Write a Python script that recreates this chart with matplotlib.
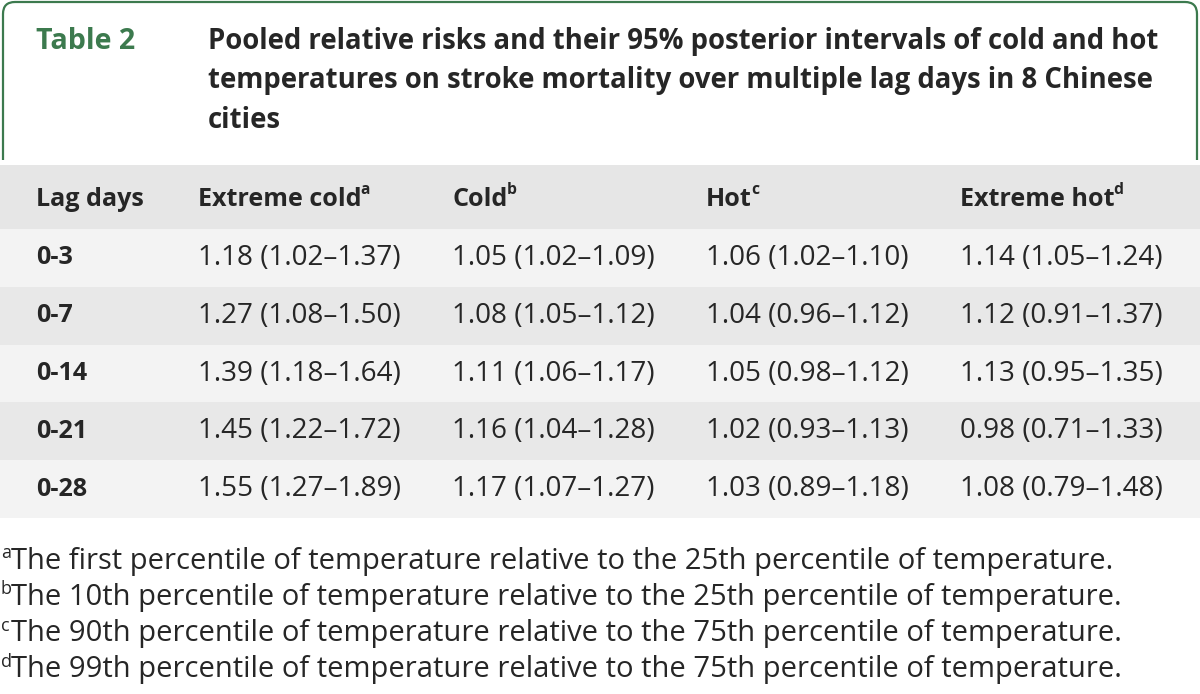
import matplotlib
matplotlib.use("Agg")
import matplotlib.pyplot as plt
from matplotlib.patches import FancyBboxPatch, Rectangle

plt.rcParams['font.family'] = ['Open Sans', 'DejaVu Sans']

table_label = "Table 2"
title_lines = [
    "Pooled relative risks and their 95% posterior intervals of cold and hot",
    "temperatures on stroke mortality over multiple lag days in 8 Chinese",
    "cities",
]
columns = ["Lag days", "Extreme cold", "Cold", "Hot", "Extreme hot"]
column_marks = ["", "a", "b", "c", "d"]
lag_days = ["0-3", "0-7", "0-14", "0-21", "0-28"]
extreme_cold = ["1.18 (1.02–1.37)", "1.27 (1.08–1.50)", "1.39 (1.18–1.64)",
                "1.45 (1.22–1.72)", "1.55 (1.27–1.89)"]
cold = ["1.05 (1.02–1.09)", "1.08 (1.05–1.12)", "1.11 (1.06–1.17)",
        "1.16 (1.04–1.28)", "1.17 (1.07–1.27)"]
hot = ["1.06 (1.02–1.10)", "1.04 (0.96–1.12)", "1.05 (0.98–1.12)",
       "1.02 (0.93–1.13)", "1.03 (0.89–1.18)"]
extreme_hot = ["1.14 (1.05–1.24)", "1.12 (0.91–1.37)", "1.13 (0.95–1.35)",
               "0.98 (0.71–1.33)", "1.08 (0.79–1.48)"]
footnotes = [
    ("a", "The first percentile of temperature relative to the 25th percentile of temperature."),
    ("b", "The 10th percentile of temperature relative to the 25th percentile of temperature."),
    ("c", "The 90th percentile of temperature relative to the 75th percentile of temperature."),
    ("d", "The 99th percentile of temperature relative to the 75th percentile of temperature."),
]

GREEN = "#3c7a4e"
TEXT = "#262626"

fig = plt.figure(figsize=(12, 6.94), dpi=100)
ax = fig.add_axes([0, 0, 1, 1])
ax.set_xlim(0, 1200)
ax.set_ylim(694, 0)
ax.axis("off")
fig.canvas.draw()
renderer = fig.canvas.get_renderer()


def fit_size(s, width_px, weight):
    # font size (pt) that makes s about width_px wide
    t = ax.text(0, 0, s, fontsize=10, fontweight=weight)
    w = t.get_window_extent(renderer).width
    t.remove()
    return 10 * width_px / w


title_fs = fit_size(title_lines[0], 955, "bold")
head_fs = fit_size("Extreme cold", 164, "bold")
body_fs = fit_size(extreme_cold[0], 203, "normal")
note_fs = fit_size(footnotes[1][1], 1108, "normal")

# green frame round the title, open at the bottom
frame = FancyBboxPatch((3, 2), 1194, 300, boxstyle="round,pad=0,rounding_size=12",
                       fill=False, ec=GREEN, lw=1.6)
ax.add_patch(frame)
frame.set_clip_path(Rectangle((0, 0), 1200, 160, transform=ax.transData))

ax.text(36, 41, table_label, color=GREEN, fontsize=title_fs * 1.04, fontweight="bold",
        va="center")
for i, line in enumerate(title_lines):
    ax.text(208, 41 + i * 39.5, line, color=TEXT, fontsize=title_fs, fontweight="bold",
            va="center")


def with_mark(x, y, s, mark, size, weight):
    t = ax.text(x, y, s, color=TEXT, fontsize=size, fontweight=weight, va="center")
    if mark:
        bb = t.get_window_extent(renderer).transformed(ax.transData.inverted())
        ax.text(bb.x1 - 1, y - size * 0.5, mark, color=TEXT, fontsize=size * 0.62,
                fontweight=weight, va="center")


# header band and rows
col_x = [36, 198, 452, 706, 960]
ax.add_patch(Rectangle((0, 165), 1200, 64, color="#e6e6e6", lw=0))
for j, (name, mark) in enumerate(zip(columns, column_marks)):
    with_mark(col_x[j], 199, name, mark, head_fs, "bold")

row_top = 229
row_h = 57.8
rows = list(zip(lag_days, extreme_cold, cold, hot, extreme_hot))
for i, row in enumerate(rows):
    y0 = row_top + i * row_h
    ax.add_patch(Rectangle((0, y0), 1200, row_h,
                           color="#f3f3f3" if i % 2 == 0 else "#e8e8e8", lw=0))
    yc = y0 + row_h / 2
    for j, val in enumerate(row):
        ax.text(col_x[j], yc, val, color=TEXT, fontsize=body_fs if j else head_fs,
                fontweight="bold" if j == 0 else "normal", va="center")

for i, (mark, note) in enumerate(footnotes):
    y = 561 + i * 36.3
    ax.text(1, y - 8, mark, color=TEXT, fontsize=note_fs * 0.62, va="center")
    ax.text(11, y, note, color=TEXT, fontsize=note_fs, va="center")

fig.savefig("out.png", dpi=100)
